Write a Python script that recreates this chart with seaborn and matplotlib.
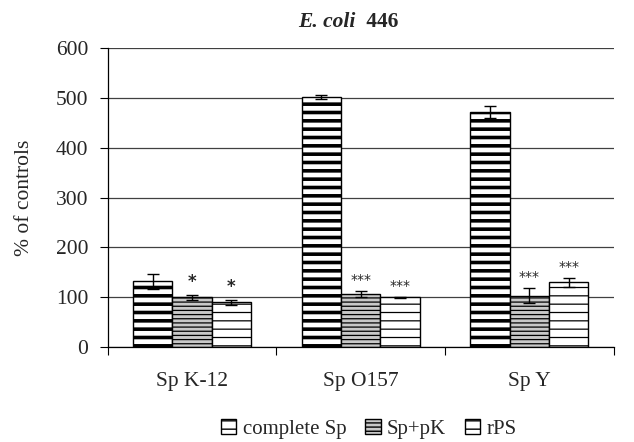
import matplotlib
matplotlib.use("Agg")
import matplotlib.pyplot as plt
import seaborn as sns
import pandas as pd

# donnees
strains = ["Sp K-12", "Sp O157", "Sp Y"]
series = ["complete Sp", "Sp+pK", "rPS"]
complete_sp = [132, 502, 472]
sp_pk = [100, 107, 103]
rps = [90, 100, 130]
err_complete = [15, 4, 12]
err_pk = [5, 6, 15]
err_rps = [5, 1, 9]
stars_pk = ["*", "***", "***"]
stars_rps = ["*", "***", "***"]

df = pd.DataFrame({
    "strain": strains * 3,
    "serie": [s for s in series for _ in strains],
    "val": complete_sp + sp_pk + rps,
})
errs = [err_complete, err_pk, err_rps]
stars = [None, stars_pk, stars_rps]

sns.set_style("white")
plt.rcParams["font.family"] = ["Liberation Serif", "DejaVu Serif"]
plt.rcParams["hatch.linewidth"] = 1.0

fig = plt.figure(figsize=(6.34, 4.42), dpi=100)
ax = fig.add_axes([0.170, 0.215, 0.798, 0.676])

sns.barplot(data=df, x="strain", y="val", hue="serie", order=strains,
            hue_order=series, palette=["white"] * 3, edgecolor="black",
            linewidth=1.0, width=0.7, errorbar=None, ax=ax, legend=False)

bar_conts = list(ax.containers)
styles = [("--", "white", 2.6), ("----", "#c8c8c8", 0.9), ("--", "white", 0.9)]
for k, cont in enumerate(bar_conts):
    hatch, fc, hlw = styles[k]
    for j, p in enumerate(cont.patches):
        p.set_hatch(hatch)
        p.set_facecolor(fc)
        if hasattr(p, "set_hatch_linewidth"):
            p.set_hatch_linewidth(hlw)
        xc = p.get_x() + p.get_width() / 2
        h = p.get_height()
        ax.errorbar(xc, h, yerr=errs[k][j], color="black", capsize=4.5,
                    elinewidth=1, capthick=1, zorder=5)
        if stars[k] is not None:
            s = stars[k][j]
            if s == "*":
                ax.text(xc, h + errs[k][j] + 7, s, ha="center", va="bottom",
                        fontsize=12, fontweight="bold", family="DejaVu Sans")
            else:
                ax.text(xc, h + errs[k][j] + 8, s, ha="center", va="bottom",
                        fontsize=10, family="DejaVu Sans")

ax.set_ylim(0, 600)
ax.set_xlim(-0.5, 2.5)
ax.set_yticks(range(0, 601, 100))
ax.yaxis.grid(True, color="#404040", linewidth=0.9)
ax.set_axisbelow(True)
ax.set_xticks(range(3))
ax.set_xticklabels(strains)
ax.set_xticks([-0.5, 0.5, 1.5, 2.5], minor=True)
ax.tick_params(axis="x", which="major", length=0, labelsize=15.5, pad=18)
ax.tick_params(axis="x", which="minor", length=6, width=0.8, direction="out",
               bottom=True, color="black")
ax.tick_params(axis="y", length=6, width=0.8, direction="out", left=True,
               labelsize=15.5, color="black", pad=8)
for sp in ["top", "right"]:
    ax.spines[sp].set_visible(False)
for sp in ["left", "bottom"]:
    ax.spines[sp].set_color("black")
    ax.spines[sp].set_linewidth(0.9)
ax.set_xlabel("")
ax.set_ylabel("% of controls", fontsize=15.5, labelpad=16)

# titre : E. coli en italique gras, 446 en gras
ax.text(0.5, 1.055, "E. coli ", transform=ax.transAxes, ha="right",
        va="bottom", fontsize=15.5, fontweight="bold", fontstyle="italic")
ax.text(0.5, 1.055, " 446", transform=ax.transAxes, ha="left",
        va="bottom", fontsize=15.5, fontweight="bold")

handles = [c.patches[0] for c in bar_conts]
ax.legend(handles, series, loc="center", bbox_to_anchor=(0.516, -0.275),
          ncol=3, frameon=False, fontsize=15, handlelength=0.75,
          handleheight=0.75, handletextpad=0.3, columnspacing=0.9,
          borderpad=0.1)

plt.savefig("out.png", dpi=100)
